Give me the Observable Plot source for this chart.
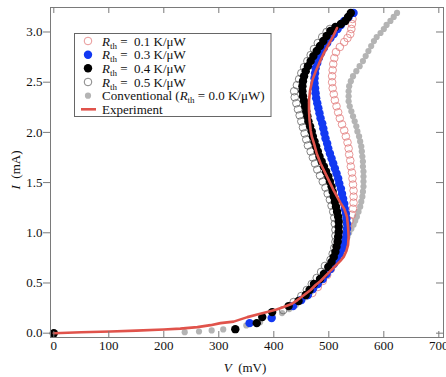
<!DOCTYPE html>
<html><head><meta charset="utf-8">
<script src="https://cdn.jsdelivr.net/npm/d3@7"></script>
<script src="https://cdn.jsdelivr.net/npm/@observablehq/plot@0.6"></script>
<style>
body{margin:0;background:#fff}
svg, svg text{font-family:"Liberation Serif","Times New Roman",serif !important}
</style>
</head><body><div id="chart"></div>
<script>
// tick values
const xTicks = [0,100,200,300,400,500,600,700];
const yTicks = [0.0,0.5,1.0,1.5,2.0,2.5,3.0];

// Experiment (V mV, I mA)
const experiment = [[0,0.0],[50,0.01],[103,0.017],[150,0.025],[200,0.037],[230,0.045],[261,0.06],[285,0.08],[303,0.10],[327,0.115],[352,0.16],[370,0.185],[388,0.21],[405,0.235],[418,0.26],[432,0.29],[443,0.33],[455,0.38],[467,0.43],[476,0.48],[485,0.52],[494,0.57],[503,0.62],[512,0.67],[521,0.72],[527,0.76],[532,0.82],[535,0.88],[536,0.96],[535,1.06],[533,1.16],[528,1.24],[521,1.30],[515,1.36],[509,1.42],[502,1.50],[494,1.59],[485,1.69],[478,1.79],[473,1.89],[469,1.96],[467,2.02],[465,2.12],[464,2.22],[464,2.32],[466,2.42],[470,2.52],[477,2.62],[485,2.72],[492,2.80],[500,2.88],[508,2.96],[515,3.04]];

// Conventional (Rth = 0.0)
const conventional = [[238,0.010],[264,0.017],[287,0.027],[308,0.037],[350,0.077],[375,0.11],[398,0.16],[415,0.20],[428,0.24],[440,0.28],[450,0.32],[459,0.36],[467,0.41],[475,0.46],[483,0.51],[490,0.56],[497,0.61],[504,0.66],[510,0.71],[516,0.76],[522,0.81],[527,0.86],[531,0.91],[534,0.96],[537,1.00],[541,1.04],[545,1.08],[548,1.12],[551,1.16],[554,1.21],[557,1.26],[559,1.31],[561,1.36],[562,1.41],[563,1.46],[563,1.51],[563,1.56],[563,1.61],[562,1.66],[562,1.71],[561,1.76],[560,1.81],[559,1.86],[557,1.91],[555,1.96],[552,2.01],[550,2.06],[547,2.11],[544,2.16],[541,2.21],[538,2.26],[536,2.31],[536,2.36],[536,2.41],[537,2.46],[540,2.51],[544,2.56],[550,2.61],[556,2.66],[562,2.71],[567,2.76],[572,2.81],[577,2.86],[582,2.91],[587,2.95],[594,2.99],[600,3.03],[605,3.07],[612,3.11],[618,3.15],[624,3.19]];

// Rth = 0.1
const rth01 = [[470,0.40],[480,0.46],[489,0.52],[497,0.58],[504,0.64],[510,0.70],[515,0.76],[519,0.82],[523,0.88],[527,0.94],[531,1.00],[535,1.06],[538,1.12],[542,1.18],[544,1.24],[545,1.30],[545,1.36],[545,1.42],[544,1.48],[543,1.54],[542,1.60],[540,1.66],[539,1.72],[537,1.78],[536,1.84],[534,1.90],[531,1.96],[528,2.02],[524,2.08],[520,2.14],[517,2.20],[514,2.26],[511,2.32],[509,2.38],[507,2.44],[506,2.50],[506,2.56],[507,2.62],[508,2.68],[510,2.74],[513,2.80],[520,2.85],[528,2.90],[534,2.94],[539,2.98],[541,3.03],[542,3.08],[543,3.13]];

// Rth = 0.3
const rth03 = [[356,0.10],[396,0.15],[435,0.27],[450,0.33],[462,0.38],[471,0.44],[480,0.49],[489,0.54],[496,0.59],[503,0.64],[509,0.69],[515,0.74],[520,0.79],[524,0.84],[527,0.89],[530,0.94],[532,0.99],[533,1.04],[533,1.09],[532,1.14],[531,1.19],[529,1.24],[528,1.29],[526,1.34],[524,1.39],[522,1.44],[519,1.49],[517,1.54],[514,1.59],[511,1.64],[508,1.69],[505,1.74],[502,1.79],[499,1.84],[497,1.89],[494,1.94],[492,1.99],[490,2.04],[488,2.09],[485,2.14],[483,2.19],[481,2.24],[479,2.29],[477,2.34],[476,2.39],[475,2.44],[474,2.49],[474,2.54],[475,2.59],[476,2.64],[479,2.69],[482,2.74],[486,2.79],[491,2.84],[497,2.89],[503,2.94],[509,2.98],[516,3.03],[522,3.07],[528,3.11],[536,3.15],[545,3.19]];

// Rth = 0.4
const rth04 = [[0,0.0],[330,0.04],[369,0.10],[379,0.16],[397,0.21],[427,0.27],[445,0.32],[458,0.38],[465,0.43],[473,0.49],[484,0.54],[491,0.59],[499,0.66],[505,0.71],[509,0.76],[512,0.81],[514,0.86],[516,0.91],[517,0.96],[518,1.01],[518,1.06],[518,1.11],[517,1.16],[515,1.21],[513,1.26],[511,1.31],[509,1.36],[507,1.41],[505,1.46],[502,1.51],[499,1.56],[495,1.61],[491,1.66],[487,1.71],[483,1.76],[480,1.81],[477,1.86],[474,1.91],[471,1.96],[469,2.01],[466,2.06],[463,2.11],[461,2.16],[459,2.21],[457,2.26],[455,2.31],[453,2.36],[452,2.41],[452,2.46],[453,2.51],[455,2.56],[458,2.61],[462,2.66],[467,2.71],[472,2.76],[478,2.81],[484,2.86],[490,2.91],[496,2.96],[503,3.01],[512,3.05],[522,3.08],[530,3.11],[535,3.15],[540,3.19]];

// Rth = 0.5
const rth05 = [[417,0.23],[436,0.31],[450,0.37],[460,0.43],[469,0.49],[478,0.55],[486,0.61],[493,0.67],[503,0.73],[507,0.79],[510,0.85],[512,0.91],[512,0.97],[512,1.03],[511,1.09],[510,1.15],[508,1.21],[505,1.27],[502,1.33],[498,1.39],[494,1.45],[489,1.51],[484,1.57],[479,1.63],[475,1.69],[471,1.75],[467,1.81],[462,1.87],[459,1.93],[456,1.99],[453,2.05],[450,2.11],[447,2.17],[444,2.23],[441,2.29],[438,2.35],[437,2.41],[442,2.47],[446,2.53],[450,2.59],[455,2.65],[461,2.71],[467,2.77],[473,2.83],[480,2.89],[488,2.95],[496,3.00],[502,3.03]];

const W = 446, H = 377, mL = 50, mR = 3, mT = 7, mB = 40;
const pw = W - mL - mR, ph = H - mT - mB;
const tickColor = "#7a7a7a";
const serif = "Liberation Serif, Times New Roman, serif";

const chart = Plot.plot({
  width: W, height: H,
  marginLeft: mL, marginRight: mR, marginTop: mT, marginBottom: mB,
  style: {fontFamily: serif, fontSize: "13px", color: "#111", background: "#fff", overflow: "visible"},
  x: {domain: [-6, 708.5]},
  y: {domain: [-0.043, 3.244]},
  marks: [
    Plot.dot(conventional, {x: d => d[0], y: d => d[1], r: 3.1, fill: "#b4b4b4", stroke: "none"}),
    Plot.dot(rth01, {x: d => d[0], y: d => d[1], r: 3.8, fill: "none", stroke: "#e27c7c", strokeWidth: 0.8}),
    Plot.dot(rth05, {x: d => d[0], y: d => d[1], r: 3.8, fill: "none", stroke: "#666", strokeWidth: 0.8}),
    Plot.dot(rth03, {x: d => d[0], y: d => d[1], r: 4.2, fill: "#1238f2", stroke: "none"}),
    Plot.dot(rth04, {x: d => d[0], y: d => d[1], r: 4.2, fill: "#000", stroke: "none"}),
    Plot.line(experiment, {x: d => d[0], y: d => d[1], stroke: "#e0534b", strokeWidth: 2.6}),
    Plot.frame({stroke: tickColor}),
    Plot.tickX(xTicks, {x: d => d, insetTop: ph - 6, stroke: tickColor}),
    Plot.tickX(xTicks, {x: d => d, insetBottom: ph - 6, stroke: tickColor}),
    Plot.tickY(yTicks, {y: d => d, insetLeft: pw - 7, stroke: tickColor}),
    Plot.axisX(xTicks, {anchor: "bottom", tickSize: 0, tickPadding: 3, label: null, fontFamily: serif, tickFormat: d => String(d)}),
    Plot.axisY(yTicks, {anchor: "left", tickSize: 7, tickPadding: 1, stroke: tickColor, label: null, fontFamily: serif, tickFormat: d => d.toFixed(1)})
  ]
});
chart.setAttribute("font-family", serif);
document.getElementById("chart").appendChild(chart);

// axis titles & legend (layout only)
const svg = d3.select(chart);

const yl = svg.append("text").attr("transform", "translate(20,170) rotate(-90)")
  .attr("text-anchor", "middle").attr("font-size", 13).attr("fill", "#111").style("white-space", "pre");
yl.append("tspan").attr("font-style", "italic").text("I");
yl.append("tspan").text("  (mA)");

const xl = svg.append("text").attr("x", 245).attr("y", 372)
  .attr("text-anchor", "middle").attr("font-size", 13).attr("fill", "#111").style("white-space", "pre");
xl.append("tspan").attr("font-style", "italic").text("V");
xl.append("tspan").text("  (mV)");

const lg = svg.append("g").attr("font-size", 13).attr("fill", "#111").attr("text-anchor", "start");
lg.append("rect").attr("x", 74.5).attr("y", 33.5).attr("width", 196.5).attr("height", 83)
  .attr("fill", "#fff").attr("stroke", "#666").attr("stroke-width", 1);

const legendRows = [
  {label: "0.1 K/\u03bcW", kind: "rth", sym: s => s.append("circle").attr("r", 3.8).attr("fill", "none").attr("stroke", "#e27c7c").attr("stroke-width", 0.8)},
  {label: "0.3 K/\u03bcW", kind: "rth", sym: s => s.append("circle").attr("r", 4.2).attr("fill", "#1238f2")},
  {label: "0.4 K/\u03bcW", kind: "rth", sym: s => s.append("circle").attr("r", 4.2).attr("fill", "#000")},
  {label: "0.5 K/\u03bcW", kind: "rth", sym: s => s.append("circle").attr("r", 3.8).attr("fill", "none").attr("stroke", "#666").attr("stroke-width", 0.8)},
  {label: "", kind: "conv", sym: s => s.append("circle").attr("r", 3.1).attr("fill", "#b4b4b4")},
  {label: "Experiment", kind: "plain", sym: s => s.append("line").attr("x1", -7).attr("x2", 8).attr("stroke", "#e0534b").attr("stroke-width", 2.6)}
];
const rowY = [41, 54.7, 68.3, 82, 95.7, 109.3];
legendRows.forEach((row, i) => {
  const g = lg.append("g").attr("transform", `translate(88,${rowY[i]})`);
  row.sym(g);
  const t = lg.append("text").attr("x", 102).attr("y", rowY[i] + 4.5).attr("text-anchor", "start").style("white-space", "pre");
  if (row.kind === "rth") {
    t.append("tspan").attr("font-style", "italic").text("R");
    t.append("tspan").attr("font-size", 9).attr("dy", 3).text("th");
    t.append("tspan").attr("dy", -3).text(" =  " + row.label);
  } else if (row.kind === "conv") {
    t.append("tspan").text("Conventional (");
    t.append("tspan").attr("font-style", "italic").text("R");
    t.append("tspan").attr("font-size", 9).attr("dy", 3).text("th");
    t.append("tspan").attr("dy", -3).text(" = 0.0 K/\u03bcW)");
  } else {
    t.text(row.label);
  }
});
</script></body></html>
